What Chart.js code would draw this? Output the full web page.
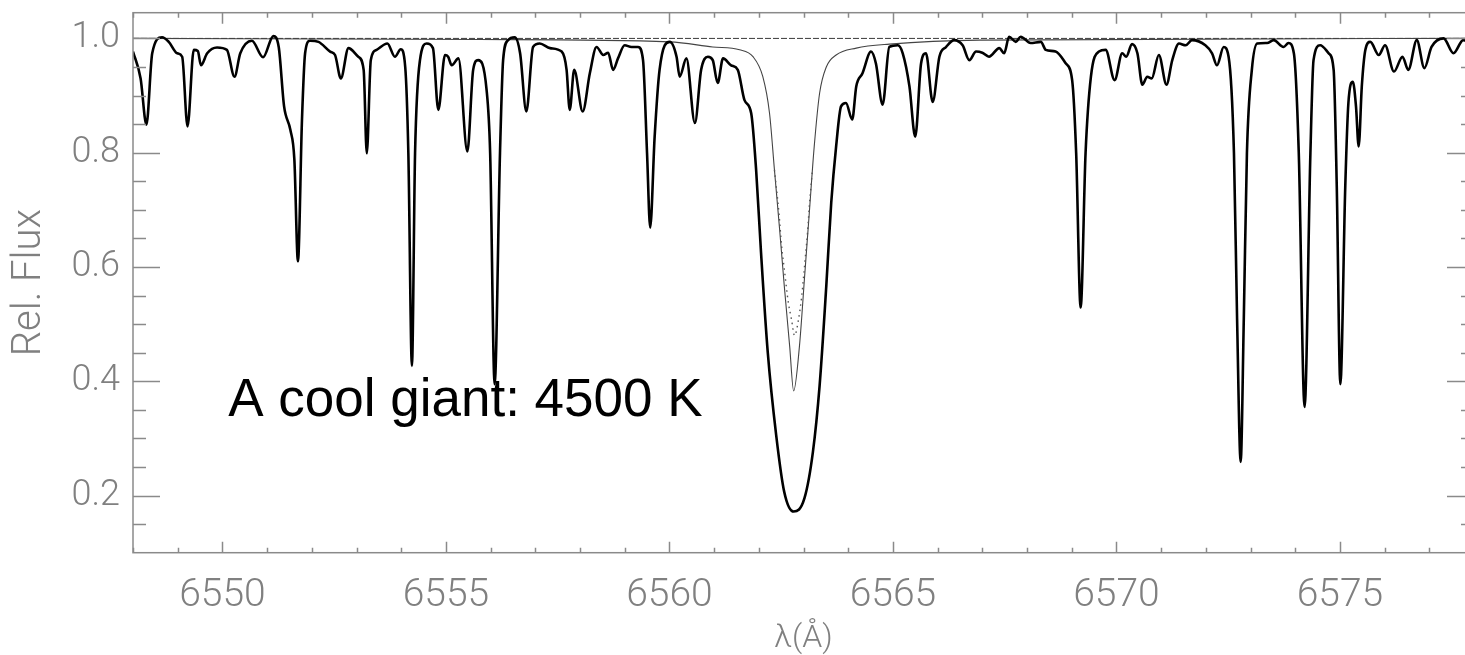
<!DOCTYPE html>
<html>
<head>
<meta charset="utf-8">
<script src="https://cdn.jsdelivr.net/npm/chart.js@4.4.1/dist/chart.umd.min.js"></script>
<style>
  html, body { margin: 0; padding: 0; background: #fff; overflow: hidden; }
  #wrap { position: absolute; left: 0; top: 0; width: 1480px; height: 655px; }
</style>
</head>
<body>
<div id="wrap"><canvas id="spec" width="1480" height="655"></canvas></div>
<script>
// Observed spectrum of a cool giant around H-alpha
const wavelength = [
  6548.00, 6548.17, 6548.30, 6548.43, 6548.65, 6548.80, 6548.99, 6549.10, 6549.22, 6549.36,
  6549.45, 6549.52, 6549.66, 6549.88, 6550.10, 6550.27, 6550.40, 6550.66, 6550.91, 6551.14,
  6551.26, 6551.38, 6551.52, 6551.61, 6551.69, 6551.78, 6551.85, 6551.96, 6552.15, 6552.41,
  6552.52, 6552.65, 6552.82, 6553.04, 6553.16, 6553.23, 6553.32, 6553.45, 6553.69, 6553.86,
  6553.99, 6554.09, 6554.16, 6554.24, 6554.31, 6554.42, 6554.57, 6554.71, 6554.83, 6554.98,
  6555.05, 6555.13, 6555.28, 6555.48, 6555.61, 6555.72, 6555.91, 6555.99, 6556.09, 6556.21,
  6556.28, 6556.39, 6556.54, 6556.66, 6556.80, 6556.95, 6557.10, 6557.33, 6557.59, 6557.70,
  6557.77, 6557.87, 6558.06, 6558.22, 6558.37, 6558.52, 6558.63, 6558.74, 6558.85, 6559.00,
  6559.15, 6559.30, 6559.41, 6559.50, 6559.57, 6559.67, 6559.78, 6560.01, 6560.16, 6560.23,
  6560.38, 6560.57, 6560.71, 6560.86, 6560.97, 6561.08, 6561.20, 6561.38, 6561.53, 6561.68,
  6561.83, 6561.94, 6562.05, 6562.20, 6562.39, 6562.57, 6562.78, 6563.02, 6563.21, 6563.36,
  6563.51, 6563.62, 6563.73, 6563.84, 6563.95, 6564.09, 6564.18, 6564.32, 6564.51, 6564.62,
  6564.77, 6564.92, 6565.11, 6565.22, 6565.37, 6565.50, 6565.63, 6565.74, 6565.89, 6566.04,
  6566.19, 6566.37, 6566.56, 6566.71, 6566.86, 6567.00, 6567.15, 6567.38, 6567.49, 6567.60,
  6567.75, 6567.86, 6568.08, 6568.31, 6568.42, 6568.64, 6568.87, 6569.01, 6569.10, 6569.20,
  6569.31, 6569.43, 6569.61, 6569.76, 6569.96, 6570.13, 6570.22, 6570.35, 6570.47, 6570.58,
  6570.69, 6570.79, 6570.95, 6571.12, 6571.25, 6571.40, 6571.55, 6571.69, 6571.99, 6572.14,
  6572.25, 6572.40, 6572.51, 6572.63, 6572.70, 6572.78, 6572.85, 6572.92, 6573.03, 6573.15,
  6573.37, 6573.52, 6573.74, 6573.85, 6573.97, 6574.08, 6574.21, 6574.34, 6574.41, 6574.56,
  6574.75, 6574.86, 6574.93, 6575.01, 6575.12, 6575.19, 6575.29, 6575.36, 6575.42, 6575.49,
  6575.57, 6575.68, 6575.87, 6576.01, 6576.21, 6576.40, 6576.53, 6576.72, 6576.89, 6577.05,
  6577.32, 6577.54, 6577.76, 6578.00
];
const flux = [
  0.977, 0.930, 0.849, 0.974, 1.002, 0.994, 0.974, 0.968, 0.846, 0.980,
  0.978, 0.953, 0.974, 0.984, 0.980, 0.933, 0.974, 0.996, 0.967, 1.004,
  0.985, 0.881, 0.840, 0.788, 0.610, 0.857, 0.974, 0.996, 0.994, 0.977,
  0.971, 0.930, 0.983, 0.968, 0.945, 0.799, 0.962, 0.980, 0.991, 0.968,
  0.981, 0.950, 0.799, 0.427, 0.799, 0.962, 0.991, 0.983, 0.875, 0.971,
  0.968, 0.953, 0.965, 0.802, 0.945, 0.962, 0.910, 0.799, 0.395, 0.799,
  0.962, 0.997, 1.002, 0.974, 0.872, 0.985, 0.991, 0.983, 0.977, 0.945,
  0.875, 0.945, 0.872, 0.939, 0.985, 0.971, 0.975, 0.945, 0.965, 0.988,
  0.985, 0.985, 0.962, 0.799, 0.669, 0.828, 0.945, 0.994, 0.968, 0.933,
  0.965, 0.852, 0.945, 0.968, 0.962, 0.922, 0.965, 0.953, 0.945, 0.892,
  0.869, 0.770, 0.625, 0.451, 0.305, 0.206, 0.172, 0.195, 0.276, 0.392,
  0.567, 0.712, 0.811, 0.881, 0.887, 0.858, 0.916, 0.939, 0.977, 0.956,
  0.884, 0.985, 0.988, 0.974, 0.916, 0.828, 0.956, 0.974, 0.889, 0.968,
  0.985, 0.997, 0.988, 0.962, 0.977, 0.975, 0.968, 0.983, 0.974, 1.003,
  0.994, 1.003, 0.992, 0.994, 0.980, 0.977, 0.956, 0.927, 0.799, 0.529,
  0.799, 0.933, 0.977, 0.980, 0.927, 0.974, 0.968, 0.990, 0.974, 0.919,
  0.933, 0.930, 0.971, 0.919, 0.962, 0.991, 0.988, 0.997, 0.988, 0.974,
  0.953, 0.985, 0.968, 0.799, 0.509, 0.259, 0.509, 0.799, 0.945, 0.991,
  0.992, 0.997, 0.985, 0.992, 0.974, 0.799, 0.355, 0.799, 0.962, 0.988,
  0.974, 0.945, 0.741, 0.395, 0.741, 0.887, 0.924, 0.881, 0.811, 0.916,
  0.980, 0.994, 0.971, 0.988, 0.942, 0.968, 0.945, 0.997, 0.948, 0.985,
  1.000, 0.974, 0.997, 0.990
];

// Synthetic H-alpha profile (thin line)
const modelWave = [
  6548.00, 6555.76, 6560.01, 6560.97, 6561.57, 6561.87, 6562.09, 6562.24, 6562.35, 6562.46,
  6562.57, 6562.69, 6562.78, 6562.91, 6563.02, 6563.13, 6563.24, 6563.36, 6563.51, 6563.73,
  6564.18, 6564.92, 6566.93, 6578.00
];
const modelFlux = [
  1.000, 0.998, 0.994, 0.985, 0.980, 0.968, 0.933, 0.869, 0.770, 0.671,
  0.567, 0.462, 0.383, 0.462, 0.578, 0.695, 0.811, 0.904, 0.950, 0.971,
  0.983, 0.990, 0.997, 1.000
];

// Second model core (dotted)
const coreWave = [
  6562.35, 6562.45, 6562.51, 6562.58, 6562.66, 6562.73, 6562.80, 6562.89, 6562.96, 6563.01,
  6563.05, 6563.09, 6563.13, 6563.20
];
const coreFlux = [
  0.770, 0.695, 0.637, 0.590, 0.538, 0.509, 0.480, 0.509, 0.549, 0.590,
  0.625, 0.660, 0.706, 0.770
];

// Continuum level
const contWave = [6548, 6578];
const contFlux = [1.0, 1.0];

const xMajor = [6550, 6555, 6560, 6565, 6570, 6575];
const yMajor = [0.2, 0.4, 0.6, 0.8, 1.0];
const xRange = [6548, 6578];
const yRange = [0.1, 1.045];

const note = { text: 'A cool giant: 4500 K', x: 6550.13, y: 0.340 };

const pts = (xs, ys) => xs.map((x, i) => ({ x, y: ys[i] }));

const axisColor = '#8a8a8a';
const labelColor = '#808080';

// IDL-style frame with inward ticks on all four sides, plus the annotation
const framePlugin = {
    id: 'frame',
    afterDatasetsDraw(chart) {
        const { ctx, chartArea: a, scales: { x, y } } = chart;
        ctx.save();
        ctx.strokeStyle = axisColor;
        ctx.lineWidth = 1.5;
        ctx.strokeRect(a.left, a.top, a.right - a.left, a.bottom - a.top);
        ctx.beginPath();
        for (let v = Math.ceil(xRange[0]); v <= xRange[1]; v++) {
            const px = Math.round(x.getPixelForValue(v)) + 0.5;
            const len = v % 5 === 0 ? 11 : 5;
            ctx.moveTo(px, a.bottom); ctx.lineTo(px, a.bottom - len);
            ctx.moveTo(px, a.top); ctx.lineTo(px, a.top + len);
        }
        for (let k = 3; k <= 20; k++) {
            const v = k * 0.05;
            if (v > yRange[1]) break;
            const py = Math.round(y.getPixelForValue(v)) + 0.5;
            const len = k % 4 === 0 ? 27 : 13;
            ctx.moveTo(a.left, py); ctx.lineTo(a.left + len, py);
            ctx.moveTo(a.right, py); ctx.lineTo(a.right - len, py);
        }
        ctx.stroke();

        ctx.fillStyle = '#000';
        ctx.font = '53px "Liberation Sans", Arial, sans-serif';
        ctx.textBaseline = 'alphabetic';
        ctx.textAlign = 'left';
        ctx.fillText(note.text, x.getPixelForValue(note.x), y.getPixelForValue(note.y));
        ctx.restore();
    }
};

new Chart(document.getElementById('spec'), {
    type: 'line',
    data: {
        datasets: [
            {
                label: 'continuum',
                data: pts(contWave, contFlux),
                borderColor: '#3a3a3a',
                borderWidth: 1,
                borderDash: [6, 2],
                pointRadius: 0,
                order: 4
            },
            {
                label: 'model',
                data: pts(modelWave, modelFlux),
                borderColor: '#444',
                borderWidth: 1.1,
                pointRadius: 0,
                cubicInterpolationMode: 'monotone',
                order: 3
            },
            {
                label: 'model core',
                data: pts(coreWave, coreFlux),
                borderColor: '#555',
                borderWidth: 1.4,
                borderDash: [1.5, 4],
                pointRadius: 0,
                cubicInterpolationMode: 'monotone',
                order: 2
            },
            {
                label: 'observed',
                data: pts(wavelength, flux),
                borderColor: '#000',
                borderWidth: 2.6,
                pointRadius: 0,
                cubicInterpolationMode: 'monotone',
                order: 1
            }
        ]
    },
    options: {
        responsive: false,
        animation: false,
        layout: { padding: { top: 12.7, right: 6, left: 0, bottom: 0 } },
        plugins: {
            legend: { display: false },
            tooltip: { enabled: false }
        },
        scales: {
            x: {
                type: 'linear',
                min: xRange[0],
                max: xRange[1],
                afterFit: s => { s.height = 102.3; s.paddingLeft = 0; s.paddingRight = 0; },
                afterBuildTicks: s => { s.ticks = xMajor.map(v => ({ value: v })); },
                grid: { display: false, drawTicks: false },
                border: { display: false },
                ticks: {
                    color: labelColor,
                    padding: 20,
                    maxRotation: 0,
                    font: { family: 'Roboto', size: 39, weight: 300 },
                    callback: v => String(v)
                },
                title: {
                    display: true,
                    text: 'λ(Å)',
                    color: labelColor,
                    padding: { top: 0, bottom: -3 },
                    font: { family: 'Roboto', size: 32, weight: 300 }
                }
            },
            y: {
                type: 'linear',
                min: yRange[0],
                max: yRange[1],
                afterFit: s => { s.width = 133; s.paddingTop = 0; s.paddingBottom = 0; },
                afterBuildTicks: s => { s.ticks = yMajor.map(v => ({ value: v })); },
                grid: { display: false, drawTicks: false },
                border: { display: false },
                ticks: {
                    color: labelColor,
                    padding: 13,
                    font: { family: 'Roboto', size: 36, weight: 300 },
                    callback: v => v.toFixed(1)
                },
                title: {
                    display: true,
                    text: 'Rel. Flux',
                    color: labelColor,
                    padding: { top: 6, bottom: 0 },
                    font: { family: 'Roboto', size: 40, weight: 300 }
                }
            }
        }
    },
    plugins: [framePlugin]
});
</script>
</body>
</html>
